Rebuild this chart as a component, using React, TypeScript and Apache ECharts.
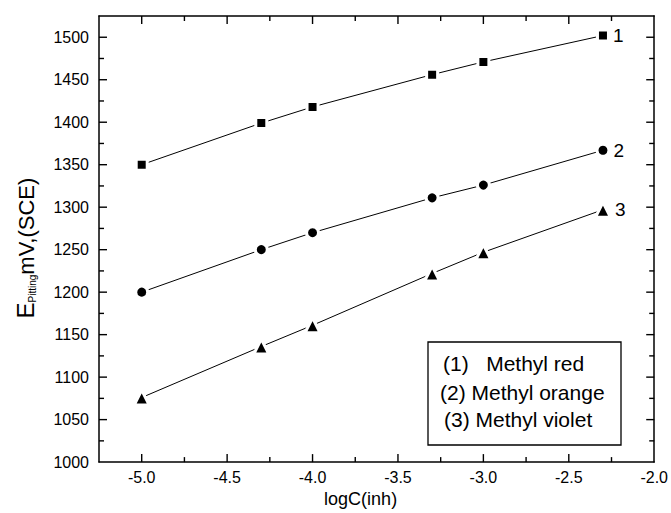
import React, { useEffect, useRef } from "react";
import * as echarts from "echarts";

const xValues = [-5.0, -4.3, -4.0, -3.3, -3.0, -2.3];
const methylRed = [1350, 1399, 1418, 1456, 1471, 1502];
const methylOrange = [1200, 1250, 1270, 1311, 1326, 1367];
const methylViolet = [1076, 1136, 1161, 1222, 1247, 1297];
const seriesNames = ["Methyl red", "Methyl orange", "Methyl violet"];
const seriesTags = ["1", "2", "3"];
const seriesSymbols = ["rect", "circle", "triangle"];
const xMajorTicks = [-5.0, -4.5, -4.0, -3.5, -3.0, -2.5];
const xMinorTicks = [-4.75, -4.25, -3.75, -3.25, -2.75, -2.25];
const xLabelTicks = [-5.0, -4.5, -4.0, -3.5, -3.0, -2.5, -2.0];
const yMajorTicks = [1050, 1100, 1150, 1200, 1250, 1300, 1350, 1400, 1450, 1500];
const yMinorTicks = [1025, 1075, 1125, 1175, 1225, 1275, 1325, 1375, 1425, 1475];
const yLabelTicks = [1000, 1050, 1100, 1150, 1200, 1250, 1300, 1350, 1400, 1450, 1500];
const legendLines = ["(1)   Methyl red", "(2) Methyl orange", "(3) Methyl violet"];

const FONT = "'Liberation Sans', Arial, sans-serif";
const X_MIN = -5.25;
const X_MAX = -2.0;
const X_STEP = 0.25;
const Y_MIN = 1000;
const Y_MAX = 1525;
const Y_STEP = 25;
const MAJOR_LEN = 8;
const MINOR_LEN = 5;

const isIn = (arr: number[], v: number) => arr.some((t) => Math.abs(t - v) < 1e-6);

export default function App() {
  const ref = useRef<HTMLDivElement>(null);
  useEffect(() => {
    if (!ref.current) return;
    const chart = echarts.init(ref.current, null, { renderer: "svg" });
    const lineStyle = { color: "#000", width: 1.5 };

    const allSeries = [methylRed, methylOrange, methylViolet].map((vals, si) => ({
      type: "line",
      name: seriesNames[si],
      xAxisIndex: 0,
      yAxisIndex: 0,
      z: 3,
      symbol: seriesSymbols[si],
      symbolSize: si === 0 ? 11 : si === 1 ? 12 : 15,
      showAllSymbol: true,
      lineStyle: { color: "#000", width: 1 },
      itemStyle: { color: "#000", borderColor: "#fff", borderWidth: 3 },
      data: vals.map((v, i) =>
        i === vals.length - 1
          ? {
              value: [xValues[i], v],
              label: {
                show: true,
                position: "right",
                distance: 3,
                formatter: seriesTags[si],
                fontSize: 19,
                fontFamily: FONT,
                color: "#000",
              },
            }
          : { value: [xValues[i], v] }
      ),
    }));

    const legendGraphics: any[] = [
      {
        type: "rect",
        shape: { x: 428, y: 342, width: 193, height: 103 },
        style: { fill: "#fff", stroke: "#000", lineWidth: 1.3 },
        z: 10,
      },
      ...legendLines.map((t, i) => ({
        type: "text",
        x: [443, 440, 444][i],
        y: [363, 392, 419][i],
        z: 11,
        style: {
          text: t,
          fontSize: 21,
          fontFamily: FONT,
          fill: "#000",
          verticalAlign: "middle",
        },
      })),
    ];

    chart.setOption({
      animation: false,
      backgroundColor: "#fff",
      grid: { left: 99, right: 16, top: 16, bottom: 48.5, containLabel: false },
      xAxis: [
        {
          type: "value",
          position: "bottom",
          min: X_MIN,
          max: X_MAX,
          interval: X_STEP,
          axisLine: { show: true, onZero: false, lineStyle },
          axisTick: { show: false },
          axisLabel: {
            show: true,
            margin: 7,
            color: "#000",
            fontSize: 16,
            fontFamily: FONT,
            formatter: (v: number) => (isIn(xLabelTicks, v) ? v.toFixed(1) : ""),
          },
          splitLine: { show: false },
          name: "logC(inh)",
          nameLocation: "middle",
          nameGap: 27,
          nameTextStyle: { color: "#000", fontSize: 18, fontFamily: FONT, padding: [0, 32, 0, 0] },
        },
        {
          type: "value",
          position: "top",
          min: X_MIN,
          max: X_MAX,
          interval: X_STEP,
          axisLine: { show: true, onZero: false, lineStyle },
          axisTick: { show: false },
          axisLabel: { show: false },
          splitLine: { show: false },
        },
      ],
      yAxis: [
        {
          type: "value",
          position: "left",
          min: Y_MIN,
          max: Y_MAX,
          interval: Y_STEP,
          axisLine: { show: true, onZero: false, lineStyle },
          axisTick: { show: false },
          axisLabel: {
            show: true,
            margin: 10,
            color: "#000",
            fontSize: 16,
            fontFamily: FONT,
            formatter: (v: number) => (isIn(yLabelTicks, v) ? String(v) : ""),
          },
          splitLine: { show: false },
          name: "{e|E}{sub|Pitting}{m|mV,(SCE)}",
          nameLocation: "middle",
          nameGap: 62,
          nameTextStyle: {
            color: "#000",
            fontFamily: FONT,
            padding: [0, 18, 0, 0],
            rich: {
              e: { fontSize: 24, fontFamily: FONT, color: "#000", verticalAlign: "bottom", lineHeight: 26 },
              sub: { fontSize: 10, fontFamily: FONT, color: "#000", verticalAlign: "bottom", lineHeight: 12 },
              m: { fontSize: 22, fontFamily: FONT, color: "#000", verticalAlign: "bottom", lineHeight: 26 },
            },
          },
        },
        {
          type: "value",
          position: "right",
          min: Y_MIN,
          max: Y_MAX,
          interval: Y_STEP,
          axisLine: { show: true, onZero: false, lineStyle },
          axisTick: { show: false },
          axisLabel: { show: false },
          splitLine: { show: false },
        },
      ],
      series: allSeries,
    });

    // Tick marks on all four sides, positioned through the chart's own scales
    const toPx = (x: number, y: number) =>
      chart.convertToPixel({ xAxisIndex: 0, yAxisIndex: 0 } as any, [x, y]) as number[];
    const tickStyle = { stroke: "#000", lineWidth: 1.4 };
    const tickGraphics: any[] = [];
    const addX = (v: number, len: number) => {
      const b = toPx(v, Y_MIN);
      const t = toPx(v, Y_MAX);
      tickGraphics.push({ type: "line", z: 5, shape: { x1: b[0], y1: b[1], x2: b[0], y2: b[1] - len }, style: tickStyle });
      tickGraphics.push({ type: "line", z: 5, shape: { x1: t[0], y1: t[1], x2: t[0], y2: t[1] + len }, style: tickStyle });
    };
    const addY = (v: number, len: number) => {
      const l = toPx(X_MIN, v);
      const r = toPx(X_MAX, v);
      tickGraphics.push({ type: "line", z: 5, shape: { x1: l[0], y1: l[1], x2: l[0] + len, y2: l[1] }, style: tickStyle });
      tickGraphics.push({ type: "line", z: 5, shape: { x1: r[0], y1: r[1], x2: r[0] - len, y2: r[1] }, style: tickStyle });
    };
    xMajorTicks.forEach((v) => addX(v, MAJOR_LEN));
    xMinorTicks.forEach((v) => addX(v, MINOR_LEN));
    yMajorTicks.forEach((v) => addY(v, MAJOR_LEN));
    yMinorTicks.forEach((v) => addY(v, MINOR_LEN));

    chart.setOption({ graphic: [...tickGraphics, ...legendGraphics] });
    return () => chart.dispose();
  }, []);
  return (
    <div
      ref={ref}
      style={{ position: "absolute", left: 0, top: 0, width: 671, height: 513, background: "#fff" }}
    />
  );
}
